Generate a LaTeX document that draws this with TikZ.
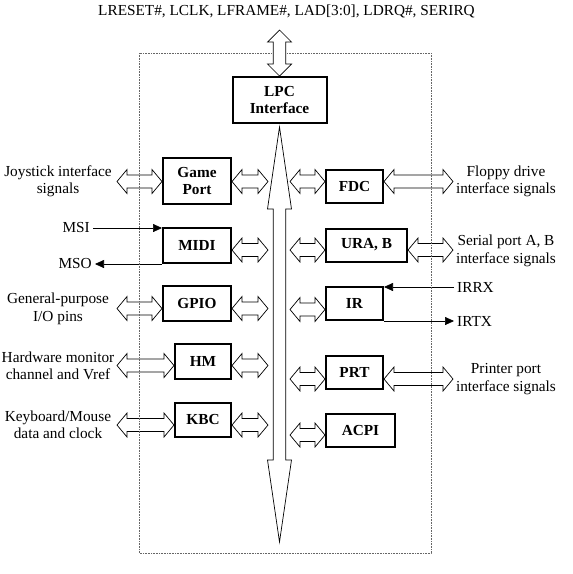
\documentclass[tikz,border=0pt]{standalone}
\usepackage{fontspec}
\setmainfont{Liberation Serif}
\usetikzlibrary{calc,arrows.meta}
\newcommand{\sigfont}{\fontsize{15.3}{17.5}\selectfont}
\tikzset{%
	sio block/.style={
		rectangle,
		draw=black,
		line width=2pt,
		fill=white,
		font=\sigfont\bfseries,
		align=center,
		inner sep=0pt
	},
	fat arrow/.style={
		draw=black,
		line width=0.7pt,
		fill=white
	},
	pin arrow/.style={
		draw=black,
		line width=0.7pt,
		-{Triangle[length=9pt,width=8pt]}
	},
	sig label/.style={
		align=center,
		inner sep=0pt
	},
	pin label/.style={
		inner sep=3pt
	},
}
% wide double arrow, left point (#1) to the x of (#2)
\newcommand{\fatH}[2]{%
	\draw[fat arrow] let \p1=(#1), \p2=(#2) in
	(\x1,\y1) -- ++(10pt,12pt) -- ++(0,-5.5pt) -- (\x2-10pt,\y1+6.5pt) -- ++(0,5.5pt)
	-- (\x2,\y1) -- ++(-10pt,-12pt) -- ++(0,5.5pt) -- (\x1+10pt,\y1-6.5pt) -- ++(0,-5.5pt) -- cycle;}
% wide vertical double arrow, top point (#1) to the y of (#2), head length #3
\newcommand{\fatV}[3]{%
	\draw[fat arrow] let \p1=(#1), \p2=(#2) in
	(\x1,\y1) -- (\x1+12pt,\y1-#3) -- (\x1+6.3pt,\y1-#3) -- (\x1+6.3pt,\y2+#3) -- (\x1+12pt,\y2+#3)
	-- (\x1,\y2) -- (\x1-12pt,\y2+#3) -- (\x1-6.3pt,\y2+#3) -- (\x1-6.3pt,\y1-#3) -- (\x1-12pt,\y1-#3) -- cycle;}

\begin{document}
\begin{tikzpicture}[x=1pt,y=-1pt,font=\sigfont]
	\useasboundingbox (0,0) rectangle (573,574);
	
	% Blocks
	\node[sio block,minimum width=94,minimum height=46] (lpc) at (279.5,100) {LPC\\Interface};
	\foreach \n/\t/\w/\h/\y in {game/{Game\\Port}/68/46/181,midi/MIDI/68/35/245.5,gpio/GPIO/68/35/303.5,hm/HM/56/35/361.5,kbc/KBC/56/34/420}
	\node[sio block,minimum width=\w,minimum height=\h,anchor=east] (\n) at (232,\y) {\t};
	\foreach \n/\t/\w/\y in {fdc/FDC/57/186.5,ura/{URA, B}/81/245,ir/IR/57/303.5,prt/PRT/57/372.5,acpi/ACPI/69/430.5}
	\node[sio block,minimum width=\w,minimum height=33,anchor=west] (\n) at (325,\y) {\t};
	
	% Signals
	\node[anchor=base] (lpc-pins) at (286.5,15) {LRESET\#, LCLK, LFRAME\#, LAD[3:0], LDRQ\#, SERIRQ};
	\node[sig label] (joy) at (58,181.5) {Joystick interface\\signals};
	\node[sig label] (gpio-pins) at (58,309) {General-purpose\\I/O pins};
	\node[sig label] (hm-pins) at (58,366) {Hardware monitor\\channel and Vref};
	\node[sig label] (kbc-pins) at (58,425) {Keyboard/Mouse\\data and clock};
	\node[sig label] (floppy) at (506,181.5) {Floppy drive\\interface signals};
	\node[sig label] (serial) at (506,251) {Serial port A, B\\interface signals};
	\node[sig label] (printer) at (506,379) {Printer port\\interface signals};
	\node[pin label,anchor=east] (msi) at (93,228) {MSI};
	\node[pin label,anchor=east] (mso) at (95,264) {MSO};
	\node[pin label,anchor=west] (irrx) at (454,287) {IRRX};
	\node[pin label,anchor=west] (irtx) at (454,321) {IRTX};
	
	% Bus
	\coordinate (lpc-top) at (279.5,30);
	\coordinate (bus-end) at (279.5,542);
	\coordinate (bus-l) at (268,0);
	\coordinate (bus-r) at (290,0);
	\coordinate (sig-l) at (117,0);
	\coordinate (sig-r) at (453,0);
	\fatV{[yshift=-3pt]lpc.south}{bus-end}{82pt}
	
	%Edges
	\foreach \b/\r in {game/181.5,midi/250,gpio/308.5,hm/365.5,kbc/425}{
		\coordinate (\b-r) at (0,\r);
		\fatH{\b.east |- \b-r}{bus-l}
	}
	\foreach \b/\r in {fdc/181.5,ura/250,ir/309.5,prt/379,acpi/435}{
		\coordinate (\b-r) at (0,\r);
		\fatH{bus-r |- \b-r}{\b.west}
	}
	\foreach \b in {game,gpio,hm,kbc}
	\fatH{sig-l |- \b-r}{\b.west};
	\foreach \b in {fdc,ura,prt}
	\fatH{\b.east |- \b-r}{sig-r};
	
	\draw[pin arrow] (msi.east) -- (msi.east -| midi.west);
	\draw[pin arrow] (mso.east -| midi.west) -- (mso.east);
	\draw[pin arrow] (irrx.west) -- (irrx.west -| ir.east);
	\draw[pin arrow] (irtx.west -| ir.east) -- (irtx.west);
	
	% Chip outline, under the LPC pins only
	\draw[gray!80!black,line width=0.6pt,dash pattern=on 0.8pt off 0.8pt] (139,53) rectangle (431,553);
	\fatV{lpc-top}{lpc.north}{12pt}
\end{tikzpicture}
\end{document}
